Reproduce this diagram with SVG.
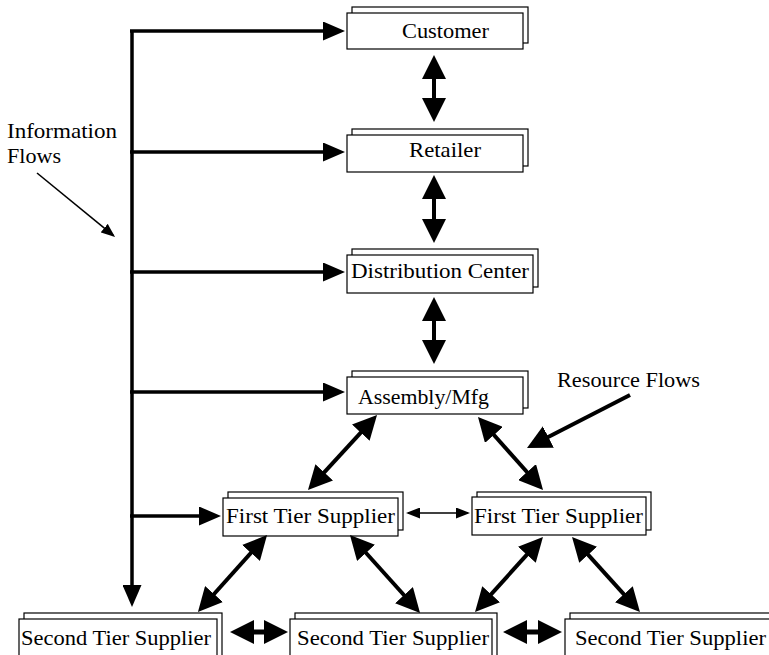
<svg xmlns="http://www.w3.org/2000/svg" width="769" height="655" viewBox="0 0 769 655">
  <defs>
    <marker id="headBig" viewBox="0 0 24 24" markerWidth="24" markerHeight="24" refX="16" refY="12" markerUnits="userSpaceOnUse" orient="auto-start-reverse">
      <path d="M0,0 L24,12 L0,24 z" fill="#000"/>
    </marker>
    <marker id="headInfo" viewBox="0 0 22 19" markerWidth="22" markerHeight="19" refX="15" refY="9.5" markerUnits="userSpaceOnUse" orient="auto-start-reverse">
      <path d="M0,0 L22,9.5 L0,19 z" fill="#000"/>
    </marker>
    <marker id="headSmall" viewBox="0 0 14 11" markerWidth="14" markerHeight="11" refX="12" refY="5.5" markerUnits="userSpaceOnUse" orient="auto-start-reverse">
      <path d="M0,0 L14,5.5 L0,11 z" fill="#000"/>
    </marker>
  </defs>
  <style>
    .card { fill: #fff; stroke: #000; stroke-width: 1.2; }
    .lbl { font-family: "Liberation Serif", "Times New Roman", serif; font-size: 21.5px; fill: #000; }
    .thick { fill: none; stroke: #000; stroke-width: 4; marker-start: url(#headBig); marker-end: url(#headBig); }
    .wide { fill: none; stroke: #000; stroke-width: 5; marker-start: url(#headBig); marker-end: url(#headBig); }
    .info { fill: none; stroke: #000; stroke-width: 3.5; }
    .infoArrow { fill: none; stroke: #000; stroke-width: 3.5; marker-end: url(#headInfo); }
    .thin { fill: none; stroke: #000; stroke-width: 1.6; }
  </style>

  <rect width="769" height="655" fill="#fff"/>

  <!-- stacked-card nodes -->
  <g id="customer">
    <rect class="card" x="352" y="7" width="176" height="36"/>
    <rect class="card" x="347" y="13" width="176" height="36"/>
    <text class="lbl" x="402" y="38" textLength="87" lengthAdjust="spacingAndGlyphs">Customer</text>
  </g>
  <g id="retailer">
    <rect class="card" x="352" y="129" width="176" height="37"/>
    <rect class="card" x="347" y="135" width="176" height="37"/>
    <text class="lbl" x="409" y="157" textLength="72" lengthAdjust="spacingAndGlyphs">Retailer</text>
  </g>
  <g id="distribution">
    <rect class="card" x="352" y="249" width="186" height="38"/>
    <rect class="card" x="347" y="255" width="186" height="38"/>
    <text class="lbl" x="351" y="278" textLength="178" lengthAdjust="spacingAndGlyphs">Distribution Center</text>
  </g>
  <g id="assembly">
    <rect class="card" x="352" y="371" width="176" height="37"/>
    <rect class="card" x="347" y="377" width="176" height="37"/>
    <text class="lbl" x="358" y="404" textLength="131" lengthAdjust="spacingAndGlyphs">Assembly/Mfg</text>
  </g>
  <g id="first-tier-a">
    <rect class="card" x="228" y="492" width="175" height="38"/>
    <rect class="card" x="223" y="498" width="175" height="38"/>
    <text class="lbl" x="226" y="523" textLength="169" lengthAdjust="spacingAndGlyphs">First Tier Supplier</text>
  </g>
  <g id="first-tier-b">
    <rect class="card" x="477" y="492" width="174" height="38"/>
    <rect class="card" x="472" y="497" width="174" height="38"/>
    <text class="lbl" x="474" y="523" textLength="169" lengthAdjust="spacingAndGlyphs">First Tier Supplier</text>
  </g>
  <g id="second-tier-a">
    <rect class="card" x="24" y="613" width="198" height="44"/>
    <rect class="card" x="19" y="619" width="198" height="44"/>
    <text class="lbl" x="21" y="645" textLength="190" lengthAdjust="spacingAndGlyphs">Second Tier Supplier</text>
  </g>
  <g id="second-tier-b">
    <rect class="card" x="295" y="613" width="202" height="44"/>
    <rect class="card" x="290" y="619" width="202" height="44"/>
    <text class="lbl" x="297" y="645" textLength="192" lengthAdjust="spacingAndGlyphs">Second Tier Supplier</text>
  </g>
  <g id="second-tier-c">
    <rect class="card" x="570" y="613" width="210" height="44"/>
    <rect class="card" x="565" y="619" width="210" height="44"/>
    <text class="lbl" x="575" y="645" textLength="191" lengthAdjust="spacingAndGlyphs">Second Tier Supplier</text>
  </g>

  <!-- free labels -->
  <g id="label-information">
    <text class="lbl" x="7" y="138" textLength="110" lengthAdjust="spacingAndGlyphs">Information</text>
    <text class="lbl" x="7" y="163" textLength="54" lengthAdjust="spacingAndGlyphs">Flows</text>
  </g>
  <g id="label-resource">
    <text class="lbl" x="557" y="387" textLength="143" lengthAdjust="spacingAndGlyphs">Resource Flows</text>
  </g>

  <g id="connectors">
    <!-- information trunk and branches -->
    <path class="info" d="M132,31 V587"/>
    <path class="infoArrow" d="M132,585 V600"/>
    <path class="infoArrow" d="M130,31 H338"/>
    <path class="infoArrow" d="M130,152 H338"/>
    <path class="infoArrow" d="M130,272 H338"/>
    <path class="infoArrow" d="M130,392 H338"/>
    <path class="infoArrow" d="M130,516 H214"/>

    <!-- resource flows between stages -->
    <path class="thick" d="M434,63 V114"/>
    <path class="thick" d="M434,183 V235"/>
    <path class="thick" d="M434,305 V356"/>
    <path class="thick" d="M371.6,420.9 L313.4,484.1"/>
    <path class="thick" d="M483.3,423 L537.7,484"/>
    <path class="thick" d="M261.7,541 L203.3,606"/>
    <path class="thick" d="M355.3,541 L414.7,607"/>
    <path class="thick" d="M537.6,542.9 L480.4,606.1"/>
    <path class="thick" d="M577.4,542.9 L634.6,606.1"/>

    <!-- lateral links -->
    <path class="thin" d="M408,513 H468" style="marker-start:url(#headSmall);marker-end:url(#headSmall)"/>
    <path class="wide" d="M238,632 H280"/>
    <path class="wide" d="M511,632 H554"/>

    <!-- callout pointers -->
    <path fill="none" stroke="#000" stroke-width="4" d="M630,395 L534.1,444.3" style="marker-end:url(#headBig)"/>
    <path class="thin" d="M37,173 L113.5,235.7" style="marker-end:url(#headSmall)"/>
  </g>
</svg>
